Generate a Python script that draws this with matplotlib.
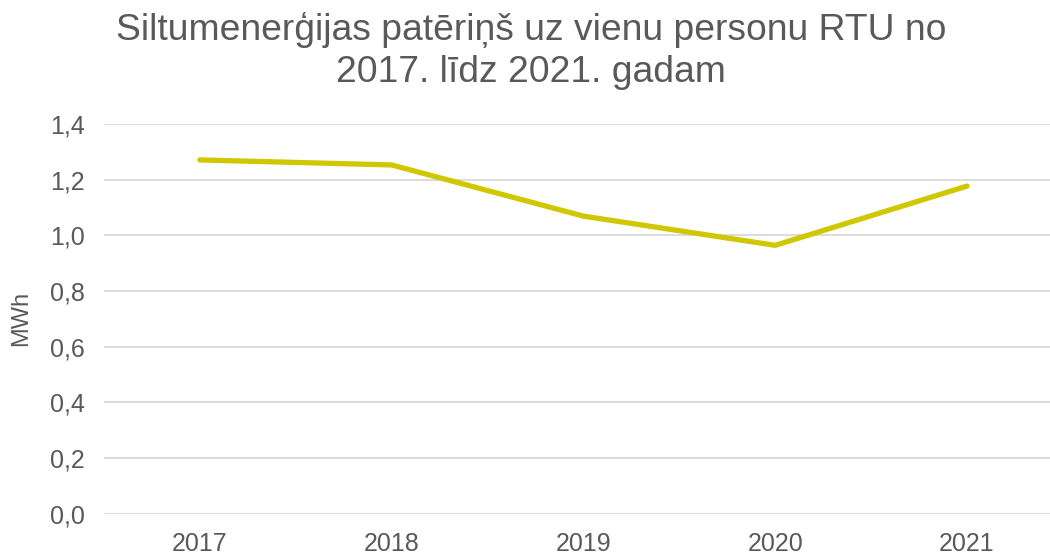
import matplotlib
matplotlib.use("Agg")
import matplotlib.pyplot as plt
from matplotlib.ticker import FuncFormatter, MultipleLocator

# dati / data
years = ["2017", "2018", "2019", "2020", "2021"]
heat_mwh = [1.271, 1.253, 1.069, 0.964, 1.177]

title = "Siltumenerģijas patēriņš uz vienu personu RTU no\n2017. līdz 2021. gadam"
text_color = "#595959"
line_color = "#cfc800"
grid_color = "#d9d9d9"

plt.rcParams["font.family"] = ["Liberation Sans", "DejaVu Sans"]

fig = plt.figure(figsize=(10.5, 5.56), dpi=100)
ax = fig.add_axes([0.099, 0.0764, 0.9133, 0.7005])

x = list(range(len(years)))
ax.plot(x, heat_mwh, color=line_color, linewidth=3.8,
        solid_capstyle="round", solid_joinstyle="miter")

ax.set_xlim(-0.5, len(years) - 0.5)
ax.set_ylim(0, 1.4)
ax.yaxis.set_major_locator(MultipleLocator(0.2))
ax.yaxis.set_major_formatter(FuncFormatter(lambda v, _: f"{v:.1f}".replace(".", ",")))
ax.set_xticks(x)
ax.set_xticklabels(years)

ax.grid(axis="y", color=grid_color, linewidth=1.3)
ax.set_axisbelow(True)
for s in ax.spines.values():
    s.set_visible(False)
ax.tick_params(axis="both", length=0, labelsize=18, colors=text_color)
ax.tick_params(axis="y", pad=14)
ax.tick_params(axis="x", pad=13)

ax.set_ylabel("MWh", fontsize=17, color=text_color, labelpad=8)
ax.yaxis.set_label_coords(-0.075, 0.5)

fig.text(0.506, 0.978, title, ha="center", va="top", fontsize=26.8,
         color=text_color, linespacing=1.25)

fig.savefig("out.png", dpi=100)
